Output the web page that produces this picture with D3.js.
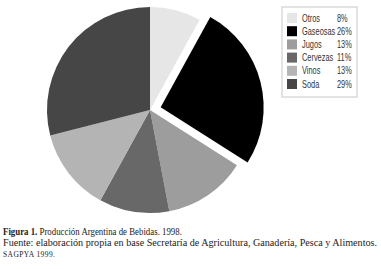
<!DOCTYPE html>
<html>
<head>
<meta charset="utf-8">
<script src="https://cdn.jsdelivr.net/npm/d3@7"></script>
<style>
  body { margin: 0; background: #fff; }
</style>
</head>
<body>
<svg id="chart"></svg>
<script>
var categories = ['Otros', 'Gaseosas', 'Jugos', 'Cervezas', 'Vinos', 'Soda'];
var values = [8, 26, 13, 11, 13, 29];
var colors = ['#e6e6e6', '#000000', '#9d9d9d', '#686868', '#b4b4b4', '#464646'];
var exploded = 'Gaseosas';

var width = 381, height = 269;
var svg = d3.select('#chart').attr('width', width).attr('height', height);

var data = categories.map((c, i) => ({ name: c, value: values[i], color: colors[i] }));

var radius = 103;
var pie = d3.pie().sort(null).value(d => d.value);
var arc = d3.arc().innerRadius(0).outerRadius(radius);

var g = svg.append('g').attr('transform', 'translate(150,110)');

g.selectAll('path')
    .data(pie(data))
    .enter()
    .append('path')
    .attr('d', arc)
    .attr('fill', d => d.data.color)
    .attr('transform', function(d) {
        if (d.data.name !== exploded) return null;
        var a = (d.startAngle + d.endAngle) / 2;
        var off = 11;
        return 'translate(' + (Math.sin(a) * off) + ',' + (-Math.cos(a) * off) + ')';
    });

// legend
var legend = svg.append('g').attr('transform', 'translate(282,7)');
legend.append('rect')
    .attr('x', 0).attr('y', 0)
    .attr('width', 75).attr('height', 90)
    .attr('fill', '#fff')
    .attr('stroke', '#c8c8c8')
    .attr('stroke-width', 1);

var rowY = d3.scalePoint().domain(categories).range([11, 77]);

var rows = legend.selectAll('g.row')
    .data(data)
    .enter()
    .append('g')
    .attr('class', 'row')
    .attr('transform', d => 'translate(0,' + rowY(d.name) + ')');

rows.append('rect')
    .attr('x', 5).attr('y', -5)
    .attr('width', 10).attr('height', 10)
    .attr('fill', d => d.color);

// condensed look: squeeze the text horizontally
var sq = 0.74;
rows.append('text')
    .attr('transform', 'translate(20,3.5) scale(' + sq + ',1)')
    .style('font-family', '"Liberation Sans", Arial, sans-serif')
    .style('font-size', '10px')
    .attr('fill', '#333')
    .text(d => d.name);

rows.append('text')
    .attr('transform', 'translate(55,3.5) scale(' + sq + ',1)')
    .style('font-family', '"Liberation Sans", Arial, sans-serif')
    .style('font-size', '10px')
    .attr('fill', '#333')
    .text(d => d.value + '%');

// caption
var serif = '"Liberation Serif", "DejaVu Serif", serif';
var cap1 = svg.append('text')
    .attr('transform', 'translate(3,235) scale(0.93,1)')
    .style('font-family', serif)
    .style('font-size', '9.5px')
    .attr('fill', '#222');
cap1.append('tspan').style('font-weight', 'bold').text('Figura 1.');
cap1.append('tspan').text(' Producción Argentina de Bebidas. 1998.');

svg.append('text')
    .attr('x', 3).attr('y', 246)
    .style('font-family', serif)
    .style('font-size', '10px')
    .attr('fill', '#222')
    .attr('textLength', 374)
    .attr('lengthAdjust', 'spacingAndGlyphs')
    .text('Fuente: elaboración propia en base Secretaría de Agricultura, Ganadería, Pesca y Alimentos.');

svg.append('text')
    .attr('x', 3).attr('y', 257)
    .style('font-family', serif)
    .style('font-size', '7.5px')
    .style('letter-spacing', '0.4px')
    .attr('fill', '#222')
    .text('SAGPYA 1999.');
</script>
</body>
</html>
